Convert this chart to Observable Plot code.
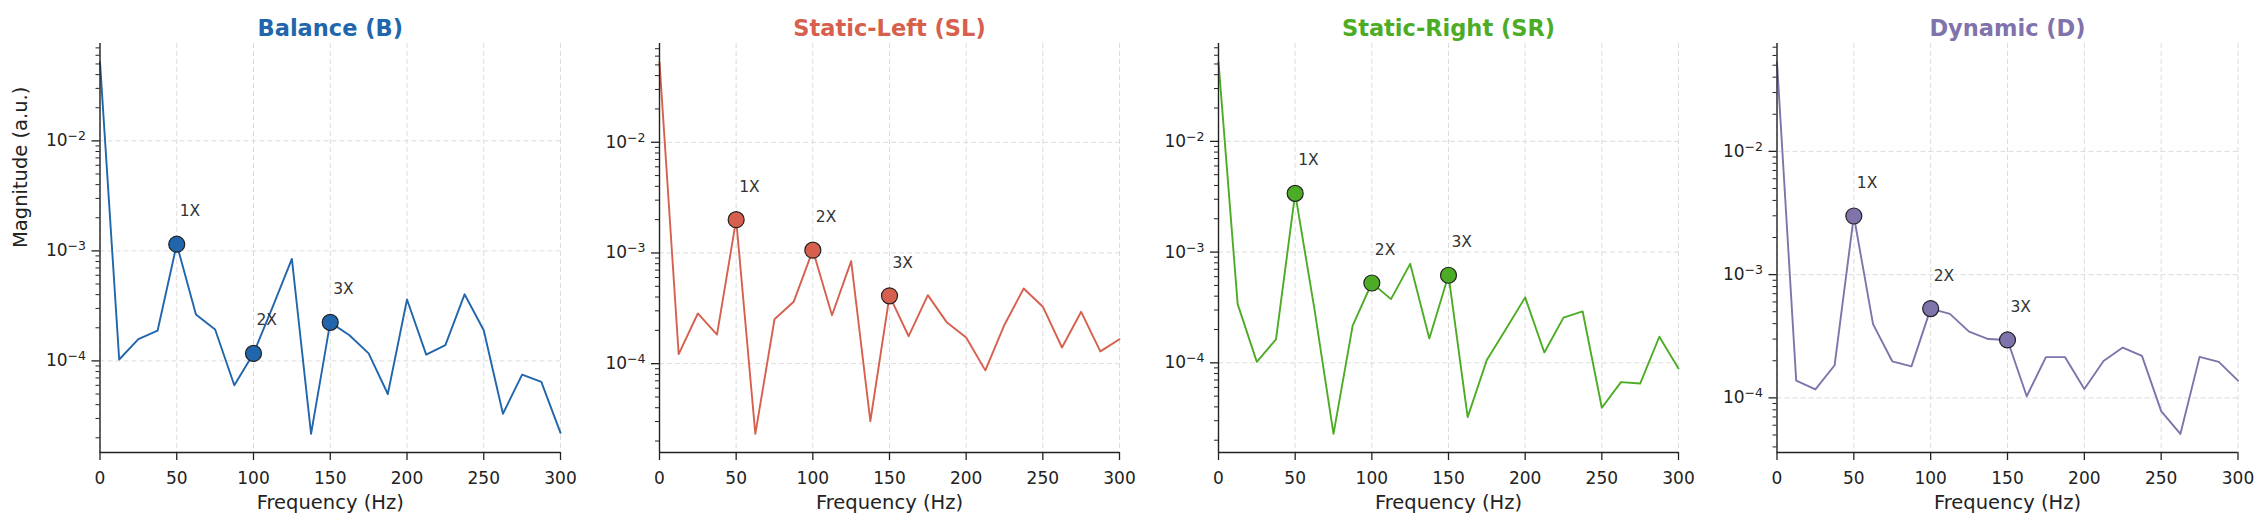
<!DOCTYPE html>
<html><head><meta charset="utf-8">
<script src="https://cdn.jsdelivr.net/npm/d3@7"></script>
<script src="https://cdn.jsdelivr.net/npm/@observablehq/plot@0.6"></script>
<style>
body{margin:0;background:#fff;}
#row{display:flex;width:2263px;height:528px;overflow:hidden;}
#row svg{flex:none;max-width:none;}
</style></head><body><div id="row"></div>
<script>
// ---- data ----
const freqs = [0, 12.5, 25, 37.5, 50, 62.5, 75, 87.5, 100, 112.5, 125, 137.5, 150, 162.5, 175, 187.5, 200, 212.5, 225, 237.5, 250, 262.5, 275, 287.5, 300];
const balance = [0.052, 1.03e-4, 1.58e-4, 1.88e-4, 1.15e-3, 2.64e-4, 1.93e-4, 6.0e-5, 1.17e-4, 3.1e-4, 8.45e-4, 2.17e-5, 2.24e-4, 1.71e-4, 1.17e-4, 5.0e-5, 3.62e-4, 1.14e-4, 1.39e-4, 4.03e-4, 1.9e-4, 3.31e-5, 7.5e-5, 6.44e-5, 2.22e-5];
const staticLeft = [0.053, 1.22e-4, 2.84e-4, 1.83e-4, 2.0e-3, 2.32e-5, 2.52e-4, 3.62e-4, 1.06e-3, 2.74e-4, 8.45e-4, 3.02e-5, 4.1e-4, 1.77e-4, 4.16e-4, 2.35e-4, 1.72e-4, 8.7e-5, 2.25e-4, 4.78e-4, 3.27e-4, 1.4e-4, 2.94e-4, 1.29e-4, 1.66e-4];
const staticRight = [0.052, 3.39e-4, 1.02e-4, 1.63e-4, 3.39e-3, 3.1e-4, 2.28e-5, 2.17e-4, 5.26e-4, 3.76e-4, 7.83e-4, 1.66e-4, 6.18e-4, 3.23e-5, 1.06e-4, 2.02e-4, 3.9e-4, 1.24e-4, 2.56e-4, 2.91e-4, 3.93e-5, 6.7e-5, 6.5e-5, 1.72e-4, 8.9e-5];
const dynamic = [0.053, 1.38e-4, 1.17e-4, 1.84e-4, 2.99e-3, 3.97e-4, 1.98e-4, 1.8e-4, 5.3e-4, 4.8e-4, 3.45e-4, 3.0e-4, 2.95e-4, 1.03e-4, 2.14e-4, 2.14e-4, 1.18e-4, 1.99e-4, 2.56e-4, 2.19e-4, 7.8e-5, 5.1e-5, 2.15e-4, 1.96e-4, 1.38e-4];
const titles = ["Balance (B)", "Static-Left (SL)", "Static-Right (SR)", "Dynamic (D)"];
const colors = ["#2166ac", "#d6604d", "#4dac26", "#8073ac"];
const harmonicFreqs = [50, 100, 150];
const harmonicLabels = ["1X", "2X", "3X"];
const xTicks = [0, 50, 100, 150, 200, 250, 300];
const xLabel = "Frequency (Hz)";
const yLabel = "Magnitude (a.u.)";

// ---- layout ----
const layout = [
  {width: 590, ml: 99.5, mr: 30},
  {width: 560, ml: 69,   mr: 31},
  {width: 558, ml: 68,   mr: 30},
  {width: 555, ml: 68.5, mr: 25.5}
];
const seriesList = [balance, staticLeft, staticRight, dynamic];

const expLabel = v => "10^" + Math.round(Math.log10(v));

function superscriptTicks(svg) {
  svg.querySelectorAll("text").forEach(t => {
    const m = /^10\^(-?\d+)$/.exec(t.textContent);
    if (!m) return;
    t.textContent = "";
    const ns = "http://www.w3.org/2000/svg";
    const base = document.createElementNS(ns, "tspan");
    base.textContent = "10";
    const s = document.createElementNS(ns, "tspan");
    s.textContent = m[1].replace("-", "\u2212");
    s.setAttribute("dy", "-6");
    s.setAttribute("font-size", "12.5");
    t.appendChild(base); t.appendChild(s);
  });
}

const row = document.getElementById("row");
seriesList.forEach((vals, i) => {
  const rows = freqs.map((f, j) => ({f, v: vals[j]}));
  const harm = harmonicFreqs.map((h, k) => ({f: h, v: vals[freqs.indexOf(h)], label: harmonicLabels[k]}));
  const logs = vals.map(Math.log10);
  const lo = d3.min(logs), hi = d3.max(logs), pad = 0.05 * (hi - lo);
  const dom = [Math.pow(10, lo - pad), Math.pow(10, hi + pad)];
  const majors = [], minors = [];
  for (let e = Math.floor(lo - pad) - 1; e <= Math.ceil(hi + pad); e++) {
    const m = Math.pow(10, e);
    if (m >= dom[0] && m <= dom[1]) majors.push(m);
    for (let k = 2; k <= 9; k++) { const v = k * m; if (v >= dom[0] && v <= dom[1]) minors.push(v); }
  }
  const L = layout[i];
  const color = colors[i];
  const grid = {stroke: "#dcdcdc", strokeOpacity: 1, strokeWidth: 1, strokeDasharray: "5,3"};
  const spine = {stroke: "#222", strokeWidth: 1.4};
  const chart = Plot.plot({
    width: L.width, height: 528,
    marginLeft: L.ml, marginRight: L.mr, marginTop: 43, marginBottom: 76,
    x: {domain: [0, 300]},
    y: {type: "log", domain: dom},
    style: {fontFamily: "DejaVu Sans, sans-serif", color: "#222", background: "transparent", overflow: "visible"},
    marks: [
      Plot.gridX({ticks: xTicks, ...grid}),
      Plot.gridY({ticks: majors, ...grid}),
      Plot.line(rows, {x: "f", y: "v", stroke: color, strokeWidth: 1.9}),
      Plot.dot(harm, {x: "f", y: "v", r: 8, fill: color, stroke: "#222", strokeWidth: 1.2}),
      Plot.text(harm, {x: "f", y: "v", text: "label", dx: 3, dy: -33, textAnchor: "start", fontSize: 15.5, fill: "#333"}),
      Plot.ruleX([0], spine),
      Plot.ruleY([dom[0]], spine),
      Plot.axisX({ticks: xTicks, tickSize: 8, tickPadding: 11, fontSize: 17, label: null, strokeWidth: 1.3, tickFormat: d => String(d)}),
      Plot.axisY({ticks: minors, tickSize: 4, tickFormat: () => "", label: null, strokeWidth: 1}),
      Plot.axisY({ticks: majors, tickSize: 8, tickPadding: 6, tickFormat: expLabel, fontSize: 17, label: null, strokeWidth: 1.3}),
      Plot.text([titles[i]], {frameAnchor: "top", dy: -23, fontSize: 22.5, fontWeight: "bold", fill: color}),
      Plot.text([xLabel], {frameAnchor: "bottom", dy: 56, fontSize: 19.5, fill: "#222"}),
      i === 0 ? Plot.text([yLabel], {frameAnchor: "left", dx: -79, rotate: -90, fontSize: 19.5, fill: "#222"}) : null
    ]
  });
  superscriptTicks(chart);
  row.appendChild(chart);
});
</script>
</body></html>
